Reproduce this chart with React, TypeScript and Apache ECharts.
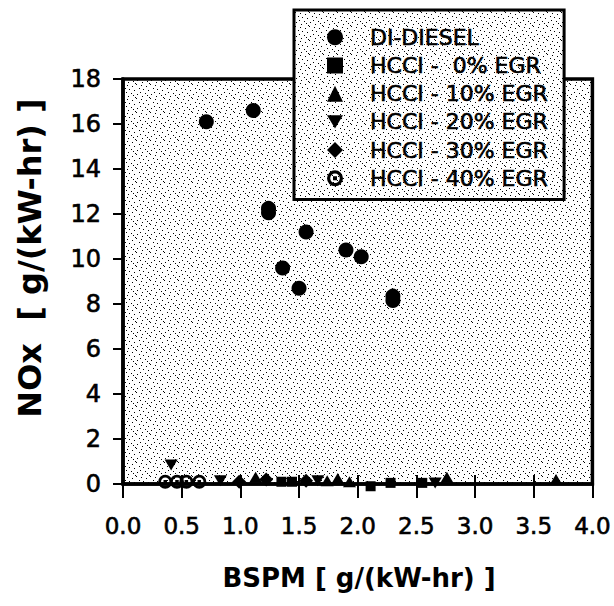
import React, { useEffect, useRef } from 'react';
import * as echarts from 'echarts';

// ---- data ----
const seriesNames = [
  'DI-DIESEL',
  'HCCI -  0% EGR',
  'HCCI - 10% EGR',
  'HCCI - 20% EGR',
  'HCCI - 30% EGR',
  'HCCI - 40% EGR',
];

const diX = [0.71, 1.11, 1.24, 1.24, 1.56, 1.90, 2.03, 1.36, 1.50, 2.30, 2.30];
const diY = [16.1, 16.6, 12.25, 12.05, 11.2, 10.4, 10.1, 9.6, 8.7, 8.35, 8.15];

const egr0X = [1.35, 1.44, 2.11, 2.28, 2.55];
const egr0Y = [0.1, 0.1, -0.1, 0.05, 0.05];

const egr10X = [1.13, 1.74, 1.83, 1.93, 2.76, 3.69];
const egr10Y = [0.3, 0.15, 0.25, 0.1, 0.3, 0.2];

const egr20X = [0.41, 0.83, 1.66, 2.66];
const egr20Y = [0.85, 0.15, 0.15, 0.05];

const egr30X = [0.99, 1.22, 1.56];
const egr30Y = [0.1, 0.2, 0.15];

const egr40X = [0.36, 0.46, 0.54, 0.65];
const egr40Y = [0.1, 0.1, 0.1, 0.1];

const xMin = 0;
const xMax = 4;
const xStep = 0.5;
const yMin = 0;
const yMax = 18;
const yStep = 2;

const xTitle = 'BSPM [ g/(kW-hr) ]';
const yTitle = 'NOx  [ g/(kW-hr) ]';

// ---- styling ----
const FONT = "'DejaVu Sans', 'Liberation Sans', Arial, sans-serif";

const dotTile = (() => {
  const dots = [
    [1, 1], [6, 2], [10, 0], [3, 5], [8, 6], [0, 8], [5, 9], [11, 10], [2, 12], [9, 13], [13, 4], [7, 11],
  ];
  const rects = dots
    .map(([x, y]) => `<rect x='${x}' y='${y}' width='1' height='1'/>`)
    .join('');
  const svg = `<svg xmlns='http://www.w3.org/2000/svg' width='14' height='14'><rect width='14' height='14' fill='white'/><g fill='black'>${rects}</g></svg>`;
  return 'data:image/svg+xml;charset=utf-8,' + encodeURIComponent(svg);
})();

const stipple: any = { image: dotTile, repeat: 'repeat', imageWidth: 14, imageHeight: 14 };

const ringSymbol =
  'path://M10,0 A10,10 0 1 1 10,20 A10,10 0 1 1 10,0 Z M10,4 A6,6 0 1 0 10,16 A6,6 0 1 0 10,4 Z M7.5,7.5 L12.5,7.5 L12.5,12.5 L7.5,12.5 Z';
const downTriangle = 'path://M0,0 L12,0 L6,10 Z';

const pairs = (xs: number[], ys: number[]) => xs.map((x, i) => [x, ys[i]]);

export default function App() {
  const ref = useRef<HTMLDivElement>(null);

  useEffect(() => {
    if (!ref.current) return;
    const chart = echarts.init(ref.current, undefined, { renderer: 'svg' });

    const mk = (name: string, data: number[][], symbol: string, size: any, z: number) => ({
      name,
      type: 'scatter',
      data,
      symbol,
      symbolSize: size,
      clip: false,
      z,
      itemStyle: { color: '#000', opacity: 1 },
      emphasis: { disabled: true },
    });

    const labelInk = { textBorderColor: '#000', textBorderWidth: 0.6 };

    const option: any = {
      animation: false,
      backgroundColor: '#fff',
      grid: {
        left: 123,
        top: 79,
        width: 472,
        height: 405,
        show: true,
        borderColor: '#000',
        borderWidth: 3.5,
        backgroundColor: stipple,
      },
      xAxis: [
        {
          type: 'value',
          min: xMin,
          max: xMax,
          interval: xStep,
          position: 'bottom',
          axisLine: { show: true, onZero: false, lineStyle: { color: '#000', width: 3.5 } },
          axisTick: { show: true, inside: false, length: 14, lineStyle: { color: '#000', width: 2 } },
          axisLabel: {
            color: '#000',
            fontFamily: FONT,
            fontSize: 23,
            margin: 30,
            ...labelInk,
            formatter: (v: number) => v.toFixed(1),
          },
          splitLine: { show: false },
        },
        {
          type: 'value',
          min: xMin,
          max: xMax,
          interval: xStep,
          position: 'bottom',
          axisLine: { show: false, onZero: false },
          axisTick: { show: true, inside: true, length: 9, lineStyle: { color: '#000', width: 2 } },
          axisLabel: { show: false },
          splitLine: { show: false },
        },
      ],
      yAxis: {
        type: 'value',
        min: yMin,
        max: yMax,
        interval: yStep,
        axisLine: { show: true, onZero: false, lineStyle: { color: '#000', width: 3.5 } },
        axisTick: { show: true, inside: false, length: 10, lineStyle: { color: '#000', width: 2 } },
        axisLabel: { color: '#000', fontFamily: FONT, fontSize: 24, margin: 22, ...labelInk },
        splitLine: { show: false },
      },
      legend: {
        orient: 'vertical',
        left: 294,
        top: 10,
        padding: [16, 16, 10, 33],
        itemGap: 5.6,
        itemWidth: 16,
        itemHeight: 16,
        backgroundColor: stipple,
        borderColor: '#000',
        borderWidth: 3,
        borderRadius: 0,
        selectedMode: false,
        data: seriesNames,
        textStyle: {
          color: '#000',
          fontFamily: FONT,
          fontSize: 22,
          lineHeight: 22,
          padding: [0, 0, 0, 22],
          ...labelInk,
        },
      },
      graphic: [
        {
          type: 'text',
          x: 359,
          y: 578,
          style: {
            text: xTitle,
            font: `bold 26px ${FONT}`,
            fill: '#000',
            align: 'center',
            verticalAlign: 'middle',
            textAlign: 'center',
            textVerticalAlign: 'middle',
          },
        },
        {
          type: 'text',
          x: 30,
          y: 258,
          rotation: Math.PI / 2,
          style: {
            text: yTitle,
            font: `bold 32px ${FONT}`,
            fill: '#000',
            align: 'center',
            verticalAlign: 'middle',
            textAlign: 'center',
            textVerticalAlign: 'middle',
          },
        },
      ],
      series: [
        mk(seriesNames[0], pairs(diX, diY), 'circle', 15, 6),
        mk(seriesNames[1], pairs(egr0X, egr0Y), 'rect', 10, 3),
        mk(seriesNames[2], pairs(egr10X, egr10Y), 'triangle', [13, 11], 3),
        mk(seriesNames[3], pairs(egr20X, egr20Y), downTriangle, [13, 11], 3),
        mk(seriesNames[4], pairs(egr30X, egr30Y), 'diamond', [14, 14], 3),
        mk(seriesNames[5], pairs(egr40X, egr40Y), ringSymbol, 14, 3),
      ],
    };

    chart.setOption(option);
    return () => chart.dispose();
  }, []);

  return (
    <div
      ref={ref}
      style={{ position: 'fixed', left: 0, top: 0, width: 614, height: 606, background: '#fff' }}
    />
  );
}
